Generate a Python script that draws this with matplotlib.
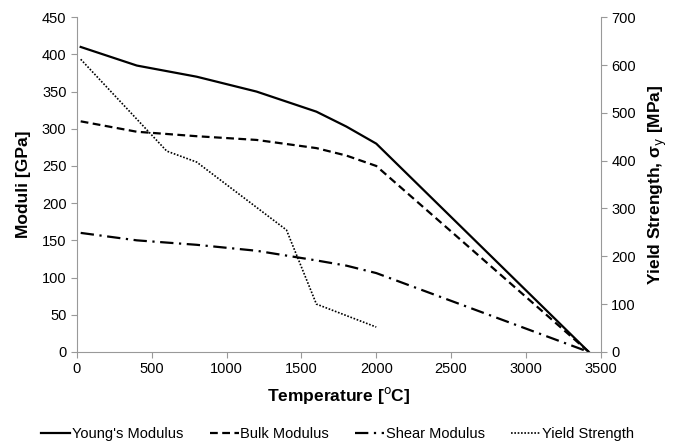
import matplotlib

matplotlib.use("Agg")
import matplotlib.pyplot as plt

# temperature [C] and moduli [GPa]
temps = [25, 400, 800, 1200, 1600, 1800, 2000, 3420]
youngs = [410, 385, 370, 350, 323, 303, 280, 0]
bulk = [310, 296, 290, 285, 274, 264, 250, 0]
shear = [160, 150, 144, 136, 123, 116, 106, 0]

# yield strength [MPa], right axis
yield_temps = [25, 600, 800, 1400, 1600, 2000]
yield_strength = [612, 420, 397, 255, 100, 52]

plt.rcParams["font.family"] = ["Liberation Sans", "DejaVu Sans"]
grey = "#999999"

fig = plt.figure(figsize=(6.75, 4.41), dpi=100)
ax = fig.add_axes([0.114, 0.202, 0.776, 0.759])
ax2 = ax.twinx()

ax.plot(temps, youngs, color="black", lw=1.6, ls="-", label="Young's Modulus")
ax.plot(temps, bulk, color="black", lw=1.6, ls=(0, (3.5, 2)), label="Bulk Modulus")
ax.plot(temps, shear, color="black", lw=1.6, ls=(0, (6, 2.5, 1, 2.5)), label="Shear Modulus")
ax2.plot(yield_temps, yield_strength, color="black", lw=1.2, ls=(0, (1, 1)), label="Yield Strength")

ax.set_xlim(0, 3500)
ax.set_ylim(0, 450)
ax2.set_ylim(0, 700)
ax.set_xticks(range(0, 3501, 500))
ax.set_yticks(range(0, 451, 50))
ax2.set_yticks(range(0, 701, 100))

for a in (ax, ax2):
    a.spines["top"].set_visible(False)
    for side in ("left", "right", "bottom"):
        a.spines[side].set_color(grey)
    a.tick_params(colors=grey, labelcolor="black", labelsize=10.5, length=4)
ax.spines["right"].set_visible(False)
ax2.spines["left"].set_visible(False)
ax2.spines["bottom"].set_visible(False)

ax.set_xlabel("Temperature [$^{\\rm o}$C]", fontsize=12.5, fontweight="bold", labelpad=6)
ax.set_ylabel("Moduli [GPa]", fontsize=12.5, fontweight="bold", labelpad=8)
ax2.set_ylabel("Yield Strength, σ$_{\\rm y}$ [MPa]", fontsize=12.5, fontweight="bold", labelpad=8)

handles = ax.get_lines() + ax2.get_lines()
fig.legend(handles, [h.get_label() for h in handles], loc="lower center", ncol=4,
           bbox_to_anchor=(0.5, -0.03), frameon=False, fontsize=10.5,
           handlelength=2.0, handletextpad=0.1, columnspacing=1.8)

fig.savefig("out.png", dpi=100)
